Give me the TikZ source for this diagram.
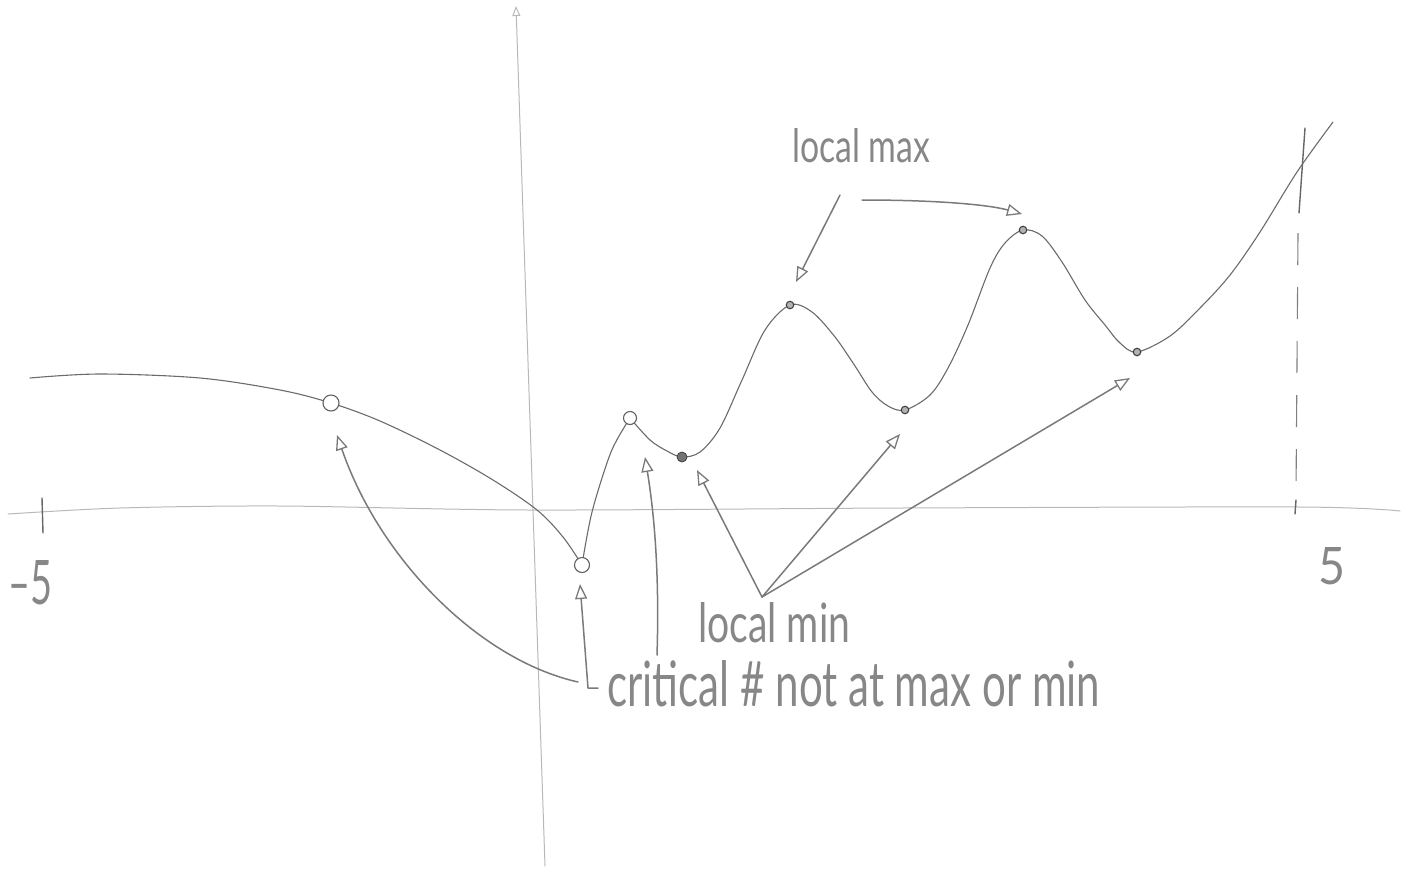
\documentclass[tikz,border=0pt]{standalone}
\usepackage{fontspec}
\setmainfont{Lato}
\usepackage{graphicx}
\usetikzlibrary{arrows.meta}
\begin{document}
\begin{tikzpicture}[x=1pt,y=-1pt,
  curve/.style={draw=black!58, line width=1.1pt, line cap=round, line join=round},
  axisline/.style={draw=black!28, line width=1pt, line cap=round},
  tickline/.style={draw=black!60, line width=1.4pt, line cap=round},
  arr/.style={draw=black!52, line width=1.5pt, line cap=round, line join=round, -{Triangle[open,length=15pt,width=12pt,line width=1.3pt]}},
  hollow/.style={circle, draw=black!62, fill=white, line width=1.1pt, inner sep=0pt},
  fdot/.style={circle, draw=black!75, fill=black!55, line width=0.8pt, inner sep=0pt, minimum size=10pt},
  sdot/.style={circle, draw=black!75, fill=black!30, line width=1.1pt, inner sep=0pt, minimum size=7.5pt},
  hand/.style={text=black!47, inner sep=0pt, anchor=base west},
]
\useasboundingbox (0,0) rectangle (1418,871);

% axes
\coordinate (xl) at (8,514);
\coordinate (xr) at (1400,511);
\draw[axisline] plot[smooth] coordinates {(xl) (120,508) (280,506) (530,510) (900,508) (1300,507) (xr)};
\coordinate (yb) at (545,866);
\coordinate (yt) at (516,6);
\draw[axisline, -{Triangle[open,length=10pt,width=8pt,line width=1pt]}] (yb) -- (yt);

% ticks
\coordinate (tk1a) at (42,498); \coordinate (tk1b) at (43,533);
\draw[tickline] (tk1a) -- (tk1b);
\coordinate (tk2a) at (1296,500); \coordinate (tk2b) at (1295,514);
\draw[tickline] (tk2a) -- (tk2b);

% dashed vertical line at x = 5
\coordinate (da) at (1305,128); \coordinate (db) at (1299,213);
\draw[draw=black!60, line width=1.4pt, line cap=round] (da) -- (db);
\coordinate (dc) at (1298,233); \coordinate (dd) at (1296,492);
\draw[draw=black!50, line width=1.1pt, dash pattern=on 32pt off 22pt] (dc) -- (dd);

% curve key points
\coordinate (p1) at (331,403);
\coordinate (p2) at (582,565);
\coordinate (p3) at (630,418);
\coordinate (p4) at (682,457);
\coordinate (p5) at (790,305);
\coordinate (p6) at (905,410);
\coordinate (p7) at (1023,230);
\coordinate (p8) at (1137,352);

\draw[curve] plot[smooth, tension=0.55] coordinates {(30,378) (100,374) (200,378) (280,390) (p1) (380,421) (440,450) (493,480) (537,510) (563,537) (p2)};
\draw[curve] plot[smooth] coordinates {(p2) (592,512) (611,452) (p3)};
\draw[curve] plot[smooth, tension=0.55] coordinates {(p3) (650,440) (667,451) (p4) (700,452) (720,428) (742,380) (765,330) (p5) (812,312) (835,337) (855,366) (872,392) (888,406) (p6) (930,395) (948,368) (968,325) (990,268) (1005,243) (p7) (1042,236) (1062,262) (1085,300) (1105,325) (1120,343) (p8) (1170,336) (1200,308) (1230,275) (1260,232) (1297,172) (1333,122)};

\node[hollow, minimum size=16pt] (c1) at (p1) {};
\node[hollow, minimum size=15pt] (c2) at (p2) {};
\node[hollow, minimum size=13pt] (c3) at (p3) {};
\node[fdot] (d4) at (p4) {};
\node[sdot] (d5) at (p5) {};
\node[sdot] (d6) at (p6) {};
\node[sdot] (d7) at (p7) {};
\node[sdot] (d8) at (p8) {};

% labels
\node[hand] (tmax) at (792,162) {\resizebox{138pt}{34pt}{local max}};
\node[hand] (tmin) at (698,642) {\resizebox{152pt}{40pt}{local min}};
\node[hand] (tcrit) at (607,706) {\resizebox{493pt}{46pt}{critical \# not at max or min}};
\node[hand] (tneg) at (8,604) {\resizebox{44pt}{44pt}{--5}};
\node[hand] (tpos) at (1318,584) {\resizebox{27pt}{37pt}{5}};

% arrows from "critical #"
\coordinate (s1) at (578,682);
\coordinate (t1) at (337,435);
\draw[arr] (s1) .. controls (480,660) and (380,560) .. (t1);
\coordinate (foot) at (598,688);
\coordinate (corner) at (588,688);
\coordinate (t2) at (580,584);
\draw[arr] (foot) -- (corner) -- (t2);
\coordinate (s3) at (657,655);
\coordinate (t3) at (645,457);
\draw[arr] (s3) .. controls (660,560) and (652,500) .. (t3);

% arrows from "local min"
\coordinate (apex) at (762,597);
\coordinate (t4) at (697,470);
\coordinate (t5) at (900,434);
\coordinate (t6) at (1130,378);
\draw[arr] (apex) -- (t4);
\draw[arr] (apex) -- (t5);
\draw[arr] (apex) -- (t6);

% arrows from "local max"
\coordinate (m1) at (840,195);
\coordinate (t7) at (796,282);
\draw[arr] (m1) -- (t7);
\coordinate (m2) at (862,200);
\coordinate (t8) at (1022,214);
\draw[arr] (m2) .. controls (940,200) and (990,205) .. (t8);
\end{tikzpicture}
\end{document}
